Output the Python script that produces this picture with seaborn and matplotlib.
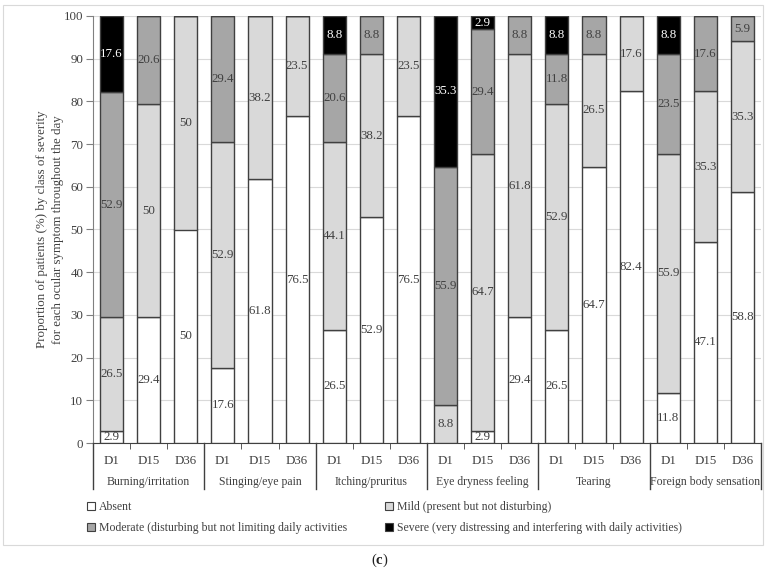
import numpy as np
import pandas as pd
import seaborn as sns
import matplotlib.pyplot as plt
from matplotlib.patches import Patch, Rectangle
from matplotlib.transforms import blended_transform_factory

symptoms = ['Burning/irritation', 'Stinging/eye pain', 'Itching/pruritus',
            'Eye dryness feeling', 'Tearing', 'Foreign body sensation']
days = ['D1', 'D15', 'D36']

# one value per bar, in symptom order, D1/D15/D36 inside each symptom
absent = [2.9, 29.4, 50, 17.6, 61.8, 76.5, 26.5, 52.9, 76.5,
          0, 2.9, 29.4, 26.5, 64.7, 82.4, 11.8, 47.1, 58.8]
mild = [26.5, 50, 50, 52.9, 38.2, 23.5, 44.1, 38.2, 23.5,
        8.8, 64.7, 61.8, 52.9, 26.5, 17.6, 55.9, 35.3, 35.3]
moderate = [52.9, 20.6, 0, 29.4, 0, 0, 20.6, 8.8, 0,
            55.9, 29.4, 8.8, 11.8, 8.8, 0, 23.5, 17.6, 5.9]
severe = [17.6, 0, 0, 0, 0, 0, 8.8, 0, 0,
          35.3, 2.9, 0, 8.8, 0, 0, 8.8, 0, 0]

levels = ['Absent', 'Mild (present but not disturbing)',
          'Moderate (disturbing but not limiting daily activities',
          'Severe (very distressing and interfering with daily activities)']
colors = ['#ffffff', '#d9d9d9', '#a6a6a6', '#000000']
text_colors = ['#404040', '#404040', '#404040', '#ffffff']

df = pd.DataFrame({
    'bar': [f'{s}|{d}' for s in symptoms for d in days],
    'day': days * len(symptoms),
    levels[0]: absent, levels[1]: mild, levels[2]: moderate, levels[3]: severe,
})

plt.rcParams['font.family'] = ['Liberation Serif', 'DejaVu Serif']
plt.rcParams['mathtext.fontset'] = 'custom'
plt.rcParams['mathtext.rm'] = 'Liberation Serif'
plt.rcParams['mathtext.bf'] = 'Liberation Serif:bold'
fs = 9.3
dark = '#404040'

W, H = 765, 571
fig = plt.figure(figsize=(W / 100, H / 100), dpi=100)
ax = fig.add_axes([93 / W, 1 - 443 / H, (761 - 93) / W, (443 - 16) / H])

bottom = np.zeros(len(df))
for lev, col, tc in zip(levels, colors, text_colors):
    vals = df[lev].to_numpy(dtype=float)
    sns.barplot(data=df, x='bar', y=lev, bottom=bottom, color=col, saturation=1,
                edgecolor=dark, linewidth=1.0, width=0.62, errorbar=None, ax=ax, zorder=3)
    for i, v in enumerate(vals):
        if v > 0:
            ax.text(i, bottom[i] + v / 2, f'{v:g}', ha='center', va='center',
                    fontsize=fs, color=tc, zorder=4)
    bottom = bottom + vals

ax.set_xlim(-0.5, len(df) - 0.5)
ax.set_ylim(0, 100)
ax.set_yticks(range(0, 101, 10))
ax.yaxis.grid(True, color='#d9d9d9', linewidth=0.8, zorder=0)
ax.set_axisbelow(True)
for s in ['top', 'right']:
    ax.spines[s].set_visible(False)
ax.spines['left'].set_color('#808080')
ax.spines['bottom'].set_color(dark)
ax.tick_params(axis='y', length=5, color='#808080', labelsize=fs, labelcolor=dark, pad=2)
ax.set_xticks(range(len(df)))
ax.set_xticklabels(df['day'])
ax.tick_params(axis='x', length=0, labelsize=fs, labelcolor=dark, pad=9)
ax.set_xticks(np.arange(-0.5, len(df), 1), minor=True)
ax.tick_params(axis='x', which='minor', length=4, color=dark, direction='out')
ax.set_xlabel('')
ax.set_ylabel('Proportion of patients (%) by class of severity\nfor each ocular symptom throughout the day',
              fontsize=fs, color=dark, labelpad=0, linespacing=1.4)

trans = blended_transform_factory(ax.transData, ax.transAxes)
for k, s in enumerate(symptoms):
    ax.text(3 * k + 1, -39 / (443 - 16), s, transform=trans, ha='center', va='center',
            fontsize=8.5, color=dark)
for k in range(len(symptoms) + 1):
    ax.plot([3 * k - 0.5, 3 * k - 0.5], [0, -46 / (443 - 16)], transform=trans,
            color=dark, linewidth=1.0, clip_on=False)

handles = [Patch(facecolor=c, edgecolor=dark, linewidth=0.8) for c in colors]
order = [0, 2, 1, 3]
fig.legend([handles[i] for i in order], [levels[i] for i in order], ncol=2,
           loc='upper left', bbox_to_anchor=(87 / W, 1 - 501 / H), frameon=False,
           fontsize=8.5, handlelength=0.7, handleheight=0.7, handletextpad=0.3,
           columnspacing=3.2, labelspacing=0.8, borderaxespad=0, borderpad=0,
           labelcolor=dark)

fig.patches.append(Rectangle((3 / W, 1 - 545 / H), 760 / W, 540 / H, transform=fig.transFigure,
                             fill=False, edgecolor='#d9d9d9', linewidth=0.8))
fig.text(380 / W, 1 - 560 / H, r'($\mathbf{c}$)', ha='center', va='center', fontsize=10.5,
         color='#222222')

fig.savefig('out.png', dpi=100)
